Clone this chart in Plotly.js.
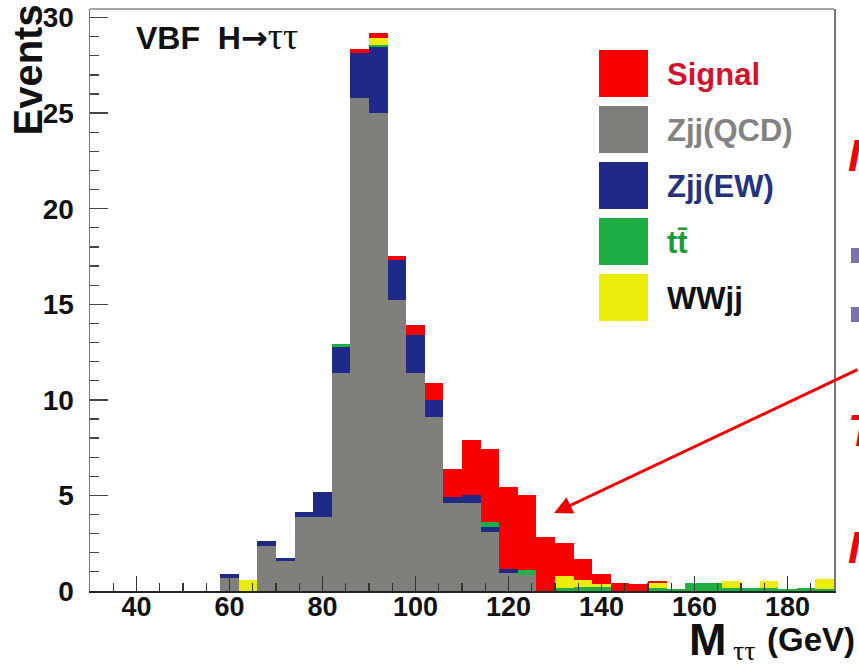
<!DOCTYPE html>
<html>
<head>
<meta charset="utf-8">
<script src="https://cdn.plot.ly/plotly-3.0.1.min.js"></script>
<style>html,body{margin:0;padding:0;background:#fff;}#chart{width:859px;height:665px;}</style>
</head>
<body>
<div id="chart"></div>
<script>
// Bin centres (GeV), 4 GeV wide bins from 30 to 190
const massBins = [32,36,40,44,48,52,56,60,64,68,72,76,80,84,88,92,96,100,104,108,112,116,120,124,128,132,136,140,144,148,152,156,160,164,168,172,176,180,184,188];
// Stacked components (events per bin), bottom to top
const zjjQCD = [0,0,0,0,0,0,0,0.7,0,2.35,1.57,3.85,3.87,11.4,25.8,25.0,15.2,11.4,9.1,4.6,4.6,3.08,0.94,0.85,0,0,0,0,0,0,0,0,0,0,0,0,0,0,0,0];
const zjjEW  = [0,0,0,0,0,0,0,0.2,0,0.25,0.15,0.28,1.3,1.35,2.35,3.45,2.1,2.0,0.9,0.3,0.4,0.27,0.2,0,0,0,0,0,0,0,0,0,0,0,0,0,0,0,0,0];
const ttbar  = [0,0,0,0,0,0,0,0,0,0,0,0,0,0.15,0,0.1,0,0,0,0,0,0.25,0,0.25,0,0.15,0.2,0.2,0,0,0.15,0.1,0.4,0.4,0.15,0.15,0.15,0.1,0.15,0.1];
const wwjj   = [0,0,0,0,0,0,0,0,0.6,0,0,0,0,0,0,0.4,0,0,0,0,0,0,0,0,0,0.65,0.4,0.15,0,0,0.25,0,0,0,0.35,0,0.35,0,0,0.55];
const signal = [0,0,0,0,0,0,0,0,0,0,0,0,0,0,0.2,0.25,0.25,0.5,0.9,1.47,2.9,3.82,4.3,3.9,2.85,1.7,1.05,0.55,0.4,0.35,0.1,0,0,0,0,0,0,0,0,0];
const xTickVals = [40,60,80,100,120,140,160,180];
const yTickVals = [0,5,10,15,20,25,30];

const seriesNames = ['Signal','Zjj(QCD)','Zjj(EW)','tt\u0304','WWjj'];
const fillColors  = ['#f80000','#7f807b','#1f2a88','#1fae45','#ecec0a'];
const textColors  = ['#d0142c','#828282','#27327c','#1f9a3a','#111111'];

const FONT = 'Liberation Sans, Arial, sans-serif';
const W = 859, H = 665, L = 90, R = 25, T = 9, B = 74;
const PW = W - L - R, PH = H - T - B;
const px = x => (x - L) / PW;
const py = y => (T + PH - y) / PH;

function bar(vals, idx) {
  return {type:'bar', x: massBins, y: vals, name: seriesNames[idx],
    marker:{color: fillColors[idx], line:{width:0}}, hoverinfo:'skip'};
}
const data = [bar(zjjQCD,1), bar(zjjEW,2), bar(ttbar,3), bar(wwjj,4), bar(signal,0)];

const shapes = [
  {type:'line', xref:'paper', yref:'paper', x0:0, x1:1, y0:1, y1:1, line:{color:'#8a8a8a', width:1.5}}
];
const annotations = [];
// legend (manual, large boxes)
const legTop = [50,106,162,218,274];
for (let i = 0; i < seriesNames.length; i++) {
  shapes.push({type:'rect', xref:'paper', yref:'paper', x0:px(599), x1:px(648), y0:py(legTop[i]), y1:py(legTop[i]+47),
    fillcolor: fillColors[i], line:{width:0}});
  annotations.push({xref:'paper', yref:'paper', x:px(665), y:py(legTop[i]+24), xanchor:'left', yanchor:'middle',
    showarrow:false, text:'<b>'+seriesNames[i]+'</b>', font:{family:FONT, size:31, color:textColors[i]}});
}
// title inside plot
annotations.push({xref:'paper', yref:'paper', x:px(134), y:py(36), xanchor:'left', yanchor:'middle', showarrow:false,
  text:'<b>VBF\u00a0\u00a0H</b><span style="font-family:DejaVu Sans;font-weight:bold">\u2192</span><span style="font-family:Liberation Serif;font-size:38px">\u03c4\u03c4</span>',
  font:{family:FONT, size:32, color:'#111'}});
// y title
annotations.push({xref:'paper', yref:'paper', x:px(3), y:py(3), xanchor:'left', yanchor:'top', showarrow:false, textangle:-90,
  text:'<b>Events</b>', font:{family:FONT, size:40, color:'#111'}});
// x title (three pieces)
annotations.push({xref:'paper', yref:'paper', x:px(729), y:py(667), xanchor:'right', yanchor:'bottom', showarrow:false,
  text:'<b>M</b>', font:{family:FONT, size:45, color:'#111'}});
annotations.push({xref:'paper', yref:'paper', x:px(731), y:py(668), xanchor:'left', yanchor:'bottom', showarrow:false,
  text:'\u03c4\u03c4', font:{family:'Liberation Serif, serif', size:28, color:'#111'}});
annotations.push({xref:'paper', yref:'paper', x:px(857), y:py(660), xanchor:'right', yanchor:'bottom', showarrow:false,
  text:'<b>(GeV)</b>', font:{family:FONT, size:33, color:'#111'}});
// arrow pointing at signal tail
annotations.push({x:129.8, y:4.08, xref:'x', yref:'y', ax:330, ay:-144, axref:'pixel', ayref:'pixel', text:'',
  showarrow:true, arrowhead:2, arrowsize:1.2, arrowwidth:3, arrowcolor:'#f00000'});
// cut-off slide fragments at right edge
[[155,'I'],[430,'T'],[547,'I']].forEach(([yy,t]) => {
  annotations.push({xref:'paper', yref:'paper', x:px(846), y:py(yy), xanchor:'left', yanchor:'middle', showarrow:false,
    text:'<b><i>'+t+'</i></b>', font:{family:FONT, size:44, color:'#f00000'}});
});
[248,307].forEach(yy => shapes.push({type:'rect', xref:'paper', yref:'paper', x0:px(851), x1:px(866), y0:py(yy), y1:py(yy+15),
  fillcolor:'#7b6fb5', line:{width:0}}));

const layout = {
  width:W, height:H, margin:{l:L, r:R, t:T, b:B, pad:0},
  paper_bgcolor:'#fff', plot_bgcolor:'#fff',
  barmode:'stack', bargap:0, showlegend:false,
  xaxis:{range:[30,190], tickvals:xTickVals, ticks:'inside', ticklen:15, tickwidth:1.5, tickcolor:'#333',
    minor:{dtick:5, tick0:30, ticks:'inside', ticklen:8, tickwidth:1.2, tickcolor:'#333', showgrid:false},
    showgrid:false, zeroline:false, showline:true, linecolor:'#222', linewidth:2, mirror:false,
    tickfont:{family:FONT, size:27, color:'#111', weight:700}, ticklabelstandoff:-9},
  yaxis:{range:[0,30.45], tickvals:yTickVals, ticks:'inside', ticklen:18, tickwidth:1.5, tickcolor:'#444',
    minor:{dtick:1, tick0:0, ticks:'inside', ticklen:9, tickwidth:1.2, tickcolor:'#444', showgrid:false},
    showgrid:false, zeroline:false, showline:true, linecolor:'#777', linewidth:1.5, mirror:true,
    tickfont:{family:FONT, size:28, color:'#111', weight:700}, ticklabelstandoff:9},
  shapes:shapes, annotations:annotations
};
Plotly.newPlot('chart', data, layout, {staticPlot:true, displayModeBar:false});
</script>
</body>
</html>
